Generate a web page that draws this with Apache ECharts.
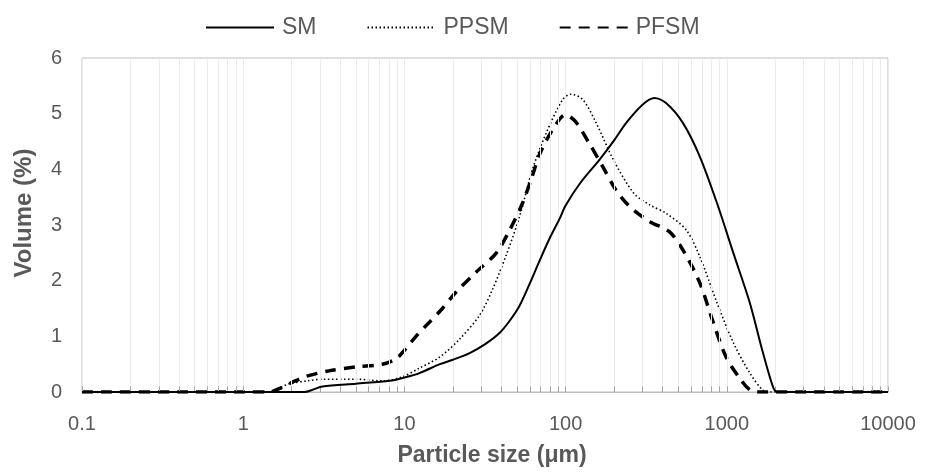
<!DOCTYPE html>
<html>
<head>
<meta charset="utf-8">
<script src="https://cdn.jsdelivr.net/npm/echarts@6/dist/echarts.min.js"></script>
<style>
html,body{margin:0;padding:0;background:#fff;}
#chart{width:930px;height:473px;}
</style>
</head>
<body>
<div id="chart"></div>
<script>
// ---- Data (particle size in µm, volume in %) ----
const seriesNames = ['SM', 'PPSM', 'PFSM'];

const smSize = [0.1, 0.5, 1, 2, 2.4, 2.75, 3.1, 5, 8.1, 10, 12.4, 16.6, 20, 25.4, 31.7, 38.9, 45, 51.8, 60, 69, 79, 92, 100, 123, 162, 200, 237, 300, 355, 420, 535, 680, 870, 1100, 1390, 1660, 1930, 2050, 3000, 5000, 10000];
const smVol  = [0, 0, 0, 0, 0, 0.05, 0.10, 0.15, 0.20, 0.26, 0.34, 0.50, 0.58, 0.70, 0.86, 1.06, 1.28, 1.55, 1.95, 2.36, 2.74, 3.12, 3.35, 3.75, 4.17, 4.52, 4.83, 5.16, 5.28, 5.19, 4.83, 4.23, 3.39, 2.49, 1.60, 0.75, 0.10, 0, 0, 0, 0];

const ppsmSize = [0.1, 0.5, 1, 1.45, 1.7, 1.94, 2.5, 3.1, 5, 7.3, 9.7, 12.4, 16.6, 22, 29.3, 35.3, 42.7, 51.8, 62.3, 75.8, 95.7, 108, 128, 155, 198, 265, 333, 420, 560, 680, 870, 1100, 1390, 1660, 1800, 3000, 5000, 10000];
const ppsmVol  = [0, 0, 0, 0, 0.08, 0.15, 0.20, 0.23, 0.23, 0.20, 0.27, 0.43, 0.63, 0.95, 1.38, 1.85, 2.45, 3.15, 4.00, 4.65, 5.25, 5.35, 5.25, 4.83, 4.17, 3.57, 3.36, 3.21, 2.91, 2.43, 1.60, 0.88, 0.34, 0.04, 0, 0, 0, 0];

const pfsmSize = [0.1, 0.5, 1, 1.45, 1.7, 2.0, 2.45, 3.4, 5, 7.3, 8.9, 10.2, 11.8, 13.7, 16.6, 21, 28, 37, 45, 54, 62, 69, 83, 100, 115, 140, 170, 205, 250, 333, 440, 535, 680, 815, 990, 1220, 1390, 1550, 3000, 5000, 10000];
const pfsmVol  = [0, 0, 0, 0, 0.07, 0.17, 0.28, 0.38, 0.45, 0.50, 0.60, 0.78, 1.00, 1.20, 1.45, 1.80, 2.16, 2.49, 2.91, 3.39, 3.87, 4.27, 4.71, 4.98, 4.86, 4.47, 4.05, 3.63, 3.33, 3.06, 2.88, 2.55, 1.96, 1.29, 0.63, 0.22, 0.04, 0, 0, 0, 0];

const yTicks = [0, 1, 2, 3, 4, 5, 6];
const decades = [0.1, 1, 10, 100, 1000];
const xLabels = ['0.1', '1', '10', '100', '1000', '10000'];

// ---- Build ----
function pairs(xs, ys){ return xs.map((x,i)=>[x, ys[i]]); }
const gridVals = [];
decades.forEach(d => { for (let k = 1; k <= 9; k++) gridVals.push(+(k*d).toPrecision(3)); });
gridVals.push(10000);

const txt = '#595959';
const font = 'Liberation Sans, Arial, sans-serif';

const chart = echarts.init(document.getElementById('chart'), null, {renderer:'canvas'});
chart.setOption({
  animation: false,
  backgroundColor: '#fff',
  textStyle: {fontFamily: font},
  legend: {
    data: seriesNames,
    top: 11,
    left: 200,
    itemWidth: 68,
    itemHeight: 14,
    itemGap: 50,
    itemStyle: {opacity: 0},
    textStyle: {fontSize: 23, color: txt, fontFamily: font, padding: [0, 0, 0, 3]}
  },
  grid: {left: 82, right: 42, top: 58, bottom: 81, show: true, borderColor: '#bfbfbf', borderWidth: 1},
  xAxis: {
    type: 'log', logBase: 10, min: 0.1, max: 10000,
    name: 'Particle size (\u03bcm)', nameLocation: 'middle', nameGap: 52,
    nameTextStyle: {fontSize: 23, fontWeight: 'bold', color: txt, fontFamily: font, padding: [0, 0, 0, 14]},
    axisLine: {show: true, lineStyle: {color: '#bfbfbf', width: 1}},
    axisTick: {show: false},
    splitLine: {show: false},
    axisLabel: {fontSize: 20, color: txt, margin: 22, fontFamily: font,
      formatter: v => { const s = xLabels.find(l => Math.abs(+l - v) < 1e-6 * Math.max(1, v)); return s !== undefined ? s : ''; }}
  },
  yAxis: {
    type: 'value', min: yTicks[0], max: yTicks[yTicks.length-1], interval: 1,
    name: 'Volume (%)', nameLocation: 'middle', nameGap: 46,
    nameTextStyle: {fontSize: 24, fontWeight: 'bold', color: txt, fontFamily: font, padding: [0, 0, 0, 24]},
    axisLine: {show: true, lineStyle: {color: '#bfbfbf', width: 1}},
    axisTick: {show: false},
    splitLine: {show: false},
    axisLabel: {fontSize: 20, color: txt, margin: 20, fontFamily: font}
  },
  series: [
    {
      name: '_grid', type: 'line', data: [], z: 0, silent: true,
      markLine: {
        silent: true, symbol: ['none','none'], label: {show: false},
        lineStyle: {color: '#ebebeb', width: 1, type: 'solid'},
        data: gridVals.map(v => ({xAxis: v}))
      }
    },
    {
      name: '_ticks', type: 'line', data: [], z: 1, silent: true,
      markLine: {
        silent: true, symbol: ['none','none'], label: {show: false},
        lineStyle: {color: '#a6a6a6', width: 1, type: 'solid'},
        data: gridVals.map(v => [{coord: [v, 0]}, {coord: [v, 0.1]}])
      }
    },
    {
      name: 'SM', type: 'line', data: pairs(smSize, smVol), smooth: 0.3, showSymbol: false, symbol: 'none',
      lineStyle: {color: '#000', width: 2, type: 'solid'}, itemStyle: {color: '#000'}, z: 5
    },
    {
      name: 'PPSM', type: 'line', data: pairs(ppsmSize, ppsmVol), smooth: 0.3, showSymbol: false, symbol: 'none',
      lineStyle: {color: '#000', width: 1.6, type: [1.5, 2.5]}, itemStyle: {color: '#000'}, z: 4
    },
    {
      name: 'PFSM', type: 'line', data: pairs(pfsmSize, pfsmVol), smooth: 0.3, showSymbol: false, symbol: 'none',
      lineStyle: {color: '#000', width: 3.5, type: [11, 8]}, itemStyle: {color: '#000'}, z: 3
    }
  ]
});
</script>
</body>
</html>
